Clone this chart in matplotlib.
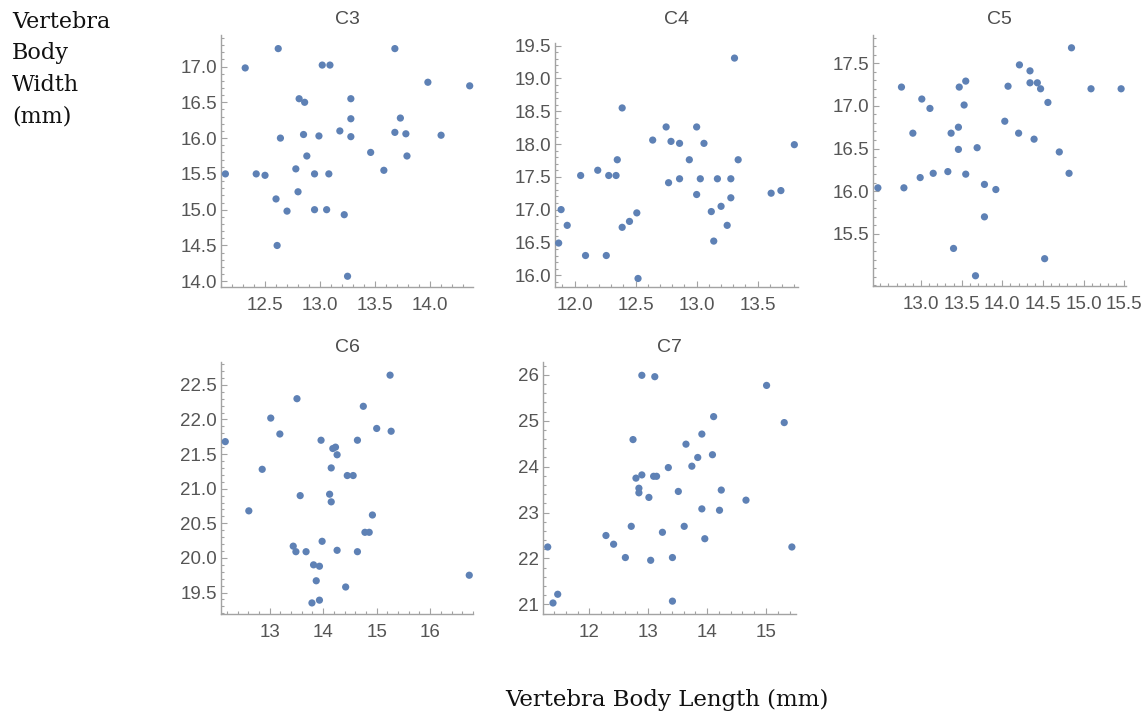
import matplotlib.pyplot as plt
from matplotlib.ticker import MultipleLocator, FormatStrFormatter

plt.rcParams['font.family'] = ['Liberation Sans', 'DejaVu Sans']

# vertebra body length / width (mm), one pair of lists per vertebra
c3_len = [12.14, 12.32, 12.62, 12.42, 12.50, 12.60, 12.61, 12.64, 12.70, 12.78,
          12.80, 12.81, 12.86, 12.85, 12.88, 12.95, 12.95, 12.99, 13.02, 13.09,
          13.08, 13.06, 13.18, 13.22, 13.25, 13.28, 13.28, 13.28, 13.46, 13.58,
          13.68, 13.68, 13.73, 13.78, 13.79, 13.98, 14.10, 14.36]
c3_wid = [15.50, 16.98, 17.25, 15.50, 15.48, 15.15, 14.50, 16.00, 14.98, 15.57,
          15.25, 16.55, 16.50, 16.05, 15.75, 15.50, 15.00, 16.03, 17.02, 17.02,
          15.50, 15.00, 16.10, 14.93, 14.07, 16.55, 16.27, 16.02, 15.80, 15.55,
          17.25, 16.08, 16.28, 16.06, 15.75, 16.78, 16.04, 16.73]

c4_len = [11.87, 11.89, 11.94, 12.05, 12.09, 12.19, 12.26, 12.28, 12.34, 12.35,
          12.39, 12.39, 12.45, 12.51, 12.52, 12.64, 12.75, 12.77, 12.79, 12.86,
          12.86, 12.94, 13.00, 13.00, 13.03, 13.06, 13.12, 13.14, 13.17, 13.20,
          13.25, 13.28, 13.28, 13.31, 13.34, 13.61, 13.69, 13.80]
c4_wid = [16.49, 17.00, 16.76, 17.52, 16.30, 17.60, 16.30, 17.52, 17.52, 17.76,
          18.55, 16.73, 16.82, 16.95, 15.95, 18.06, 18.26, 17.41, 18.04, 18.01,
          17.47, 17.76, 18.26, 17.23, 17.47, 18.01, 16.97, 16.52, 17.47, 17.05,
          16.76, 17.47, 17.18, 19.31, 17.76, 17.25, 17.29, 17.99]

c5_len = [12.47, 12.76, 12.79, 12.90, 12.99, 13.01, 13.11, 13.15, 13.33, 13.37,
          13.40, 13.46, 13.46, 13.47, 13.53, 13.55, 13.55, 13.67, 13.69, 13.78,
          13.78, 13.92, 14.03, 14.07, 14.20, 14.21, 14.34, 14.34, 14.39, 14.43,
          14.47, 14.52, 14.56, 14.70, 14.82, 14.85, 15.09, 15.46]
c5_wid = [16.04, 17.22, 16.04, 16.68, 16.16, 17.08, 16.97, 16.21, 16.23, 16.68,
          15.33, 16.75, 16.49, 17.22, 17.01, 17.29, 16.20, 15.01, 16.51, 16.08,
          15.70, 16.02, 16.82, 17.23, 16.68, 17.48, 17.41, 17.27, 16.61, 17.27,
          17.20, 15.21, 17.04, 16.46, 16.21, 17.68, 17.20, 17.20]

c6_len = [12.17, 12.61, 12.86, 13.02, 13.19, 13.44, 13.49, 13.51, 13.57, 13.68,
          13.82, 13.87, 13.79, 13.93, 13.93, 13.96, 13.98, 14.12, 14.15, 14.15,
          14.18, 14.23, 14.26, 14.26, 14.42, 14.45, 14.56, 14.64, 14.64, 14.75,
          14.78, 14.86, 14.92, 15.00, 15.25, 15.27, 16.73]
c6_wid = [21.68, 20.68, 21.28, 22.02, 21.79, 20.17, 20.09, 22.30, 20.90, 20.09,
          19.90, 19.67, 19.35, 19.88, 19.39, 21.70, 20.24, 20.92, 21.30, 20.81,
          21.58, 21.60, 21.49, 20.11, 19.58, 21.19, 21.19, 21.70, 20.09, 22.19,
          20.37, 20.37, 20.62, 21.87, 22.64, 21.83, 19.75]

c7_len = [11.29, 11.38, 11.46, 12.28, 12.41, 12.61, 12.71, 12.74, 12.79, 12.84,
          12.84, 12.89, 12.89, 13.01, 13.04, 13.09, 13.11, 13.14, 13.24, 13.34,
          13.41, 13.41, 13.51, 13.61, 13.64, 13.74, 13.84, 13.91, 13.91, 13.96,
          14.09, 14.11, 14.21, 14.24, 14.66, 15.01, 15.31, 15.44]
c7_wid = [22.25, 21.03, 21.22, 22.50, 22.31, 22.02, 22.70, 24.59, 23.75, 23.53,
          23.43, 25.99, 23.82, 23.33, 21.96, 23.79, 25.96, 23.79, 22.57, 23.98,
          22.02, 21.07, 23.46, 22.70, 24.49, 24.01, 24.20, 23.08, 24.71, 22.43,
          24.26, 25.09, 23.05, 23.49, 23.27, 25.77, 24.96, 22.25]

W, H = 1145, 718
DOT = '#5e81b5'
AXC = '#a3a3a3'
TXT = '#555555'

fig = plt.figure(figsize=(W / 100, H / 100), dpi=100, facecolor='white')


def panel(box, title_y, name, xs, ys, xlim, ylim, xmaj, xmin, ymaj, ymin, fmt):
    # box is (left, top, right, bottom) in pixels from the top-left corner
    l, t, r, b = box
    ax = fig.add_axes([l / W, 1 - b / H, (r - l) / W, (b - t) / H])
    ax.scatter(xs, ys, s=27, color=DOT, edgecolors='none', zorder=3, clip_on=False)
    ax.set_xlim(*xlim)
    ax.set_ylim(*ylim)
    for s in ('top', 'right'):
        ax.spines[s].set_visible(False)
    for s in ('left', 'bottom'):
        ax.spines[s].set_color(AXC)
        ax.spines[s].set_linewidth(1.0)
    ax.xaxis.set_major_locator(MultipleLocator(xmaj))
    ax.xaxis.set_minor_locator(MultipleLocator(xmin))
    ax.yaxis.set_major_locator(MultipleLocator(ymaj))
    ax.yaxis.set_minor_locator(MultipleLocator(ymin))
    ax.xaxis.set_major_formatter(FormatStrFormatter(fmt[0]))
    ax.yaxis.set_major_formatter(FormatStrFormatter(fmt[1]))
    ax.tick_params(which='both', direction='in', color=AXC, width=0.8,
                   labelcolor=TXT, labelsize=13.5)
    ax.tick_params(which='major', length=4.5)
    ax.tick_params(which='minor', length=2.2)
    ax.tick_params(axis='x', pad=7)
    ax.tick_params(axis='y', pad=3)
    fig.text((l + r) / 2 / W, 1 - title_y / H, name, ha='center', va='center',
             fontsize=14, color='#4d4d4d')
    return ax


panel((221, 35, 473, 287), 20, 'C3', c3_len, c3_wid, (12.10, 14.39), (13.92, 17.44),
      0.5, 0.1, 0.5, 0.1, ('%.1f', '%.1f'))
panel((555, 43, 798, 287), 20, 'C4', c4_len, c4_wid, (11.84, 13.83), (15.82, 19.54),
      0.5, 0.1, 0.5, 0.1, ('%.1f', '%.1f'))
ax5 = panel((873, 35, 1126, 286), 20, 'C5', c5_len, c5_wid, (12.41, 15.52), (14.89, 17.83),
            0.5, 0.1, 0.5, 0.1, ('%.1f', '%.1f'))
ax5.set_xticks([13.0, 13.5, 14.0, 14.5, 15.0, 15.5])
ax5.set_yticks([15.5, 16.0, 16.5, 17.0, 17.5])
panel((221, 362, 473, 614), 347, 'C6', c6_len, c6_wid, (12.09, 16.80), (19.19, 22.83),
      1, 0.2, 0.5, 0.1, ('%d', '%.1f'))
panel((543, 362, 796, 614), 347, 'C7', c7_len, c7_wid, (11.21, 15.51), (20.79, 26.28),
      1, 0.2, 1, 0.2, ('%d', '%d'))

fig.text(12 / W, 1 - 11 / H, 'Vertebra\nBody\nWidth\n(mm)', ha='left', va='top',
         fontsize=16, family='DejaVu Serif', color='#111111', linespacing=1.55)
fig.text(667 / W, 1 - 700 / H, 'Vertebra Body Length (mm)', ha='center', va='center',
         fontsize=16.5, family='DejaVu Serif', color='#111111')

fig.savefig('out.png', dpi=100, facecolor='white')
